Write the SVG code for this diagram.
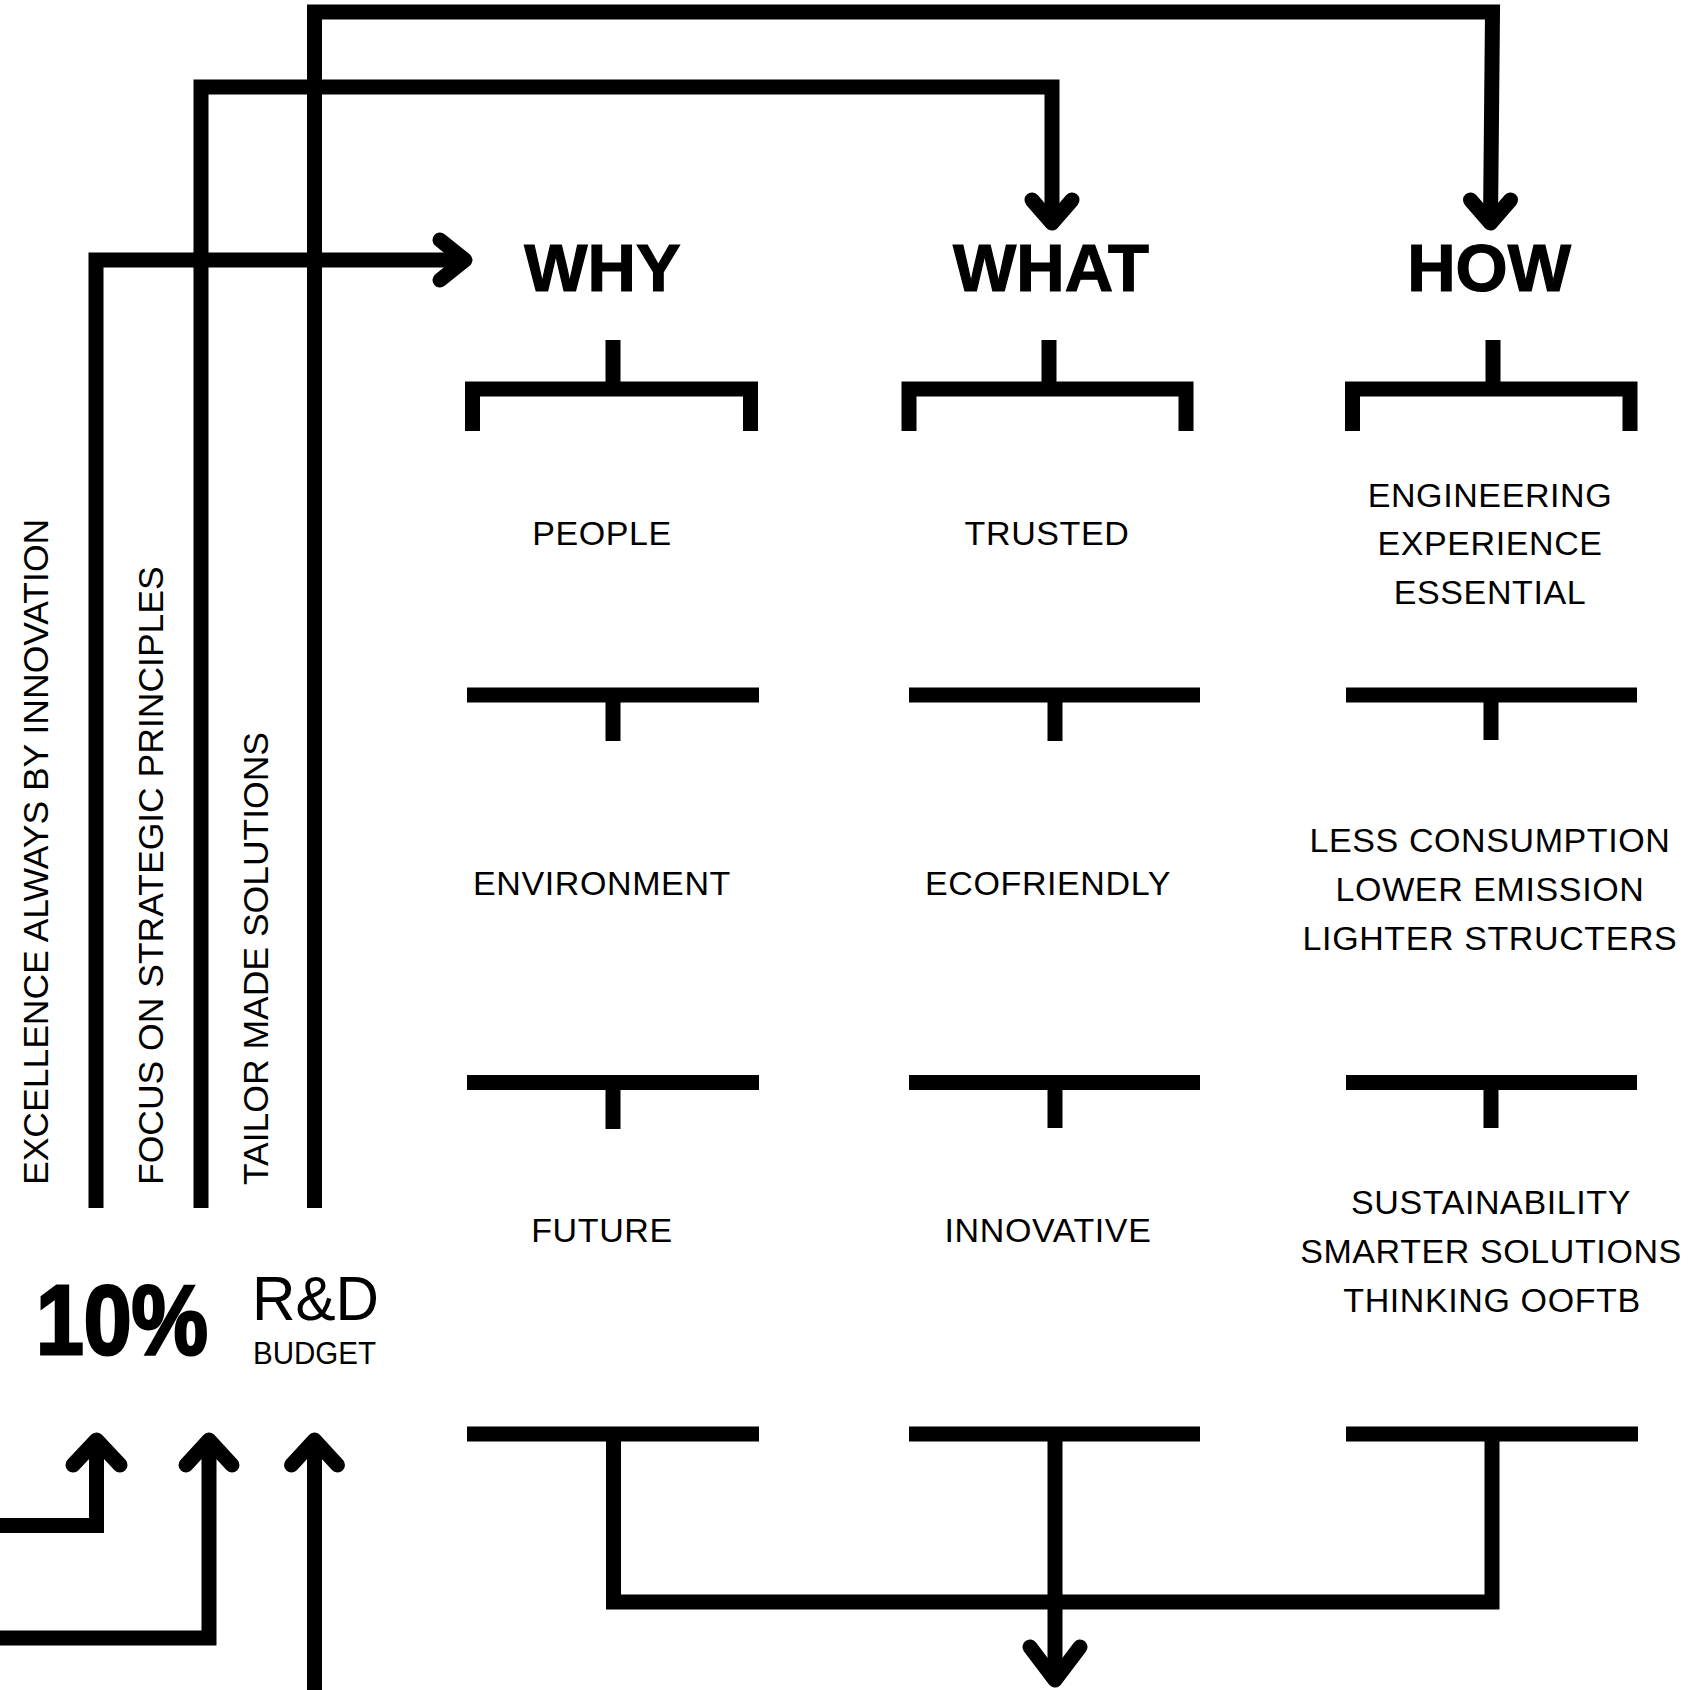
<svg xmlns="http://www.w3.org/2000/svg" width="1698" height="1690" viewBox="0 0 1698 1690">
<style>
.ln{fill:none;stroke:#000;stroke-width:15;stroke-linejoin:miter;stroke-linecap:butt}
.ah{fill:none;stroke:#000;stroke-width:15;stroke-linejoin:round;stroke-linecap:round}
.hd{font-family:"Liberation Sans",Arial,sans-serif;font-weight:bold;font-size:67px;fill:#000;stroke:#000;stroke-width:1.2;text-anchor:middle}
.tx{font-family:"Liberation Sans",Arial,sans-serif;font-size:34px;fill:#000;text-anchor:middle;letter-spacing:0.6px}
.vt{font-family:"Liberation Sans",Arial,sans-serif;font-size:35.5px;fill:#000}
</style>
<rect width="1698" height="1690" fill="#fff"/>
<g id="connectors">
  <path class="ln" d="M96,1208 V260 H464"/>
  <polyline class="ah" points="440,240 465,260 440,280"/>
  <path class="ln" d="M201,1208 V87 H1052 V222"/>
  <polyline class="ah" points="1032,200 1052,223 1072,200"/>
  <path class="ln" d="M314.5,1208 V12 H1492.5 L1490.5,222"/>
  <polyline class="ah" points="1470.5,200 1490.5,223 1510.5,200"/>
  <path class="ln" d="M0,1525.5 H96.5 V1442"/>
  <polyline class="ah" points="73,1465 96.5,1440 120,1465"/>
  <path class="ln" d="M0,1638 H209 V1442"/>
  <polyline class="ah" points="186,1465 209,1440 232,1465"/>
  <path class="ln" d="M314.5,1690 V1442"/>
  <polyline class="ah" points="291.5,1465 314.5,1440 337.5,1465"/>
  <path class="ln" d="M613.5,1441 V1602 H1492 V1441"/>
  <path class="ln" d="M1055,1441 V1678"/>
  <polyline class="ah" points="1030,1647 1055,1680 1080,1647"/>
</g>
<g id="brackets">
  <path class="ln" d="M472.5,431 V389 H750.5 V431 M613,340 V389"/>
  <path class="ln" d="M909,431 V389 H1186 V431 M1049,340 V389"/>
  <path class="ln" d="M1352.5,431 V389 H1630 V431 M1493,340 V389"/>
  <path class="ln" d="M467,695 H759 M613,695 V741"/>
  <path class="ln" d="M909,695 H1200 M1055,695 V741"/>
  <path class="ln" d="M1346,695 H1637 M1491,695 V740"/>
  <path class="ln" d="M467,1082.5 H759 M613,1082.5 V1129"/>
  <path class="ln" d="M909,1082.5 H1200 M1055,1082.5 V1128"/>
  <path class="ln" d="M1346,1082.5 H1637 M1491,1082.5 V1128"/>
  <path class="ln" d="M467,1434 H759"/>
  <path class="ln" d="M909,1434 H1200"/>
  <path class="ln" d="M1346,1434 H1638"/>
</g>
<g id="budget">
  <text x="36" y="1354" font-family="'Liberation Sans',Arial,sans-serif" font-weight="bold" font-size="98" stroke="#000" stroke-width="3" textLength="172" lengthAdjust="spacingAndGlyphs">10%</text>
  <text x="252" y="1320" font-family="'Liberation Sans',Arial,sans-serif" font-size="63" textLength="127" lengthAdjust="spacingAndGlyphs">R&amp;D</text>
  <text x="253" y="1364" font-family="'Liberation Sans',Arial,sans-serif" font-size="32" textLength="123" lengthAdjust="spacingAndGlyphs">BUDGET</text>
</g>
<g id="principle-excellence"><text class="vt" transform="translate(48,1185) rotate(-90)">EXCELLENCE ALWAYS BY INNOVATION</text></g>
<g id="principle-focus"><text class="vt" transform="translate(163,1185) rotate(-90)">FOCUS ON STRATEGIC PRINCIPLES</text></g>
<g id="principle-tailor"><text class="vt" transform="translate(268,1185) rotate(-90)">TAILOR MADE SOLUTIONS</text></g>
<g id="why"><text class="hd" x="602.5" y="291">WHY</text></g>
<g id="what"><text class="hd" x="1051" y="291">WHAT</text></g>
<g id="how"><text class="hd" x="1489" y="291">HOW</text></g>
<g id="why-people"><text class="tx" x="602" y="545">PEOPLE</text></g>
<g id="why-environment"><text class="tx" x="602" y="895">ENVIRONMENT</text></g>
<g id="why-future"><text class="tx" x="602" y="1242">FUTURE</text></g>
<g id="what-trusted"><text class="tx" x="1047" y="545">TRUSTED</text></g>
<g id="what-ecofriendly"><text class="tx" x="1048" y="895">ECOFRIENDLY</text></g>
<g id="what-innovative"><text class="tx" x="1048" y="1242">INNOVATIVE</text></g>
<g id="how-1"><text class="tx" x="1490" y="507">ENGINEERING</text><text class="tx" x="1490" y="555">EXPERIENCE</text><text class="tx" x="1490" y="604">ESSENTIAL</text></g>
<g id="how-2"><text class="tx" x="1490" y="852">LESS CONSUMPTION</text><text class="tx" x="1490" y="901">LOWER EMISSION</text><text class="tx" x="1490" y="950">LIGHTER STRUCTERS</text></g>
<g id="how-3"><text class="tx" x="1491" y="1214">SUSTAINABILITY</text><text class="tx" x="1491" y="1263">SMARTER SOLUTIONS</text><text class="tx" x="1492" y="1312">THINKING OOFTB</text></g>
</svg>
